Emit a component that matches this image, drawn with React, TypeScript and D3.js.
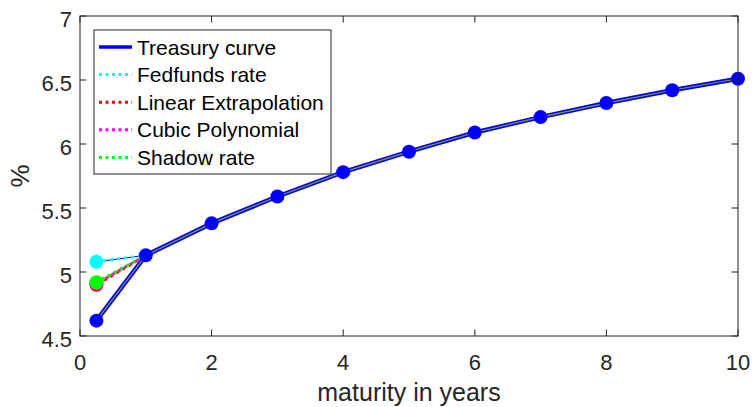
import React from "react";
import * as d3 from "d3";

// Treasury yield curve: maturities (years) and yields (%)
const maturities = [0.25, 1, 2, 3, 4, 5, 6, 7, 8, 9, 10];
const treasuryYields = [4.62, 5.13, 5.38, 5.59, 5.78, 5.94, 6.09, 6.21, 6.32, 6.42, 6.51];

// Alternative short-end values at the 3-month maturity
const fedfundsShort = 5.08;
const linearShort = 4.9;
const cubicShort = 4.91;
const shadowShort = 4.92;

const xTicks = [0, 2, 4, 6, 8, 10];
const yTicks = [4.5, 5, 5.5, 6, 6.5, 7];
const yTickLabels = ["4.5", "5", "5.5", "6", "6.5", "7"];

const legendLabels = [
  "Treasury curve",
  "Fedfunds rate",
  "Linear Extrapolation",
  "Cubic Polynomial",
  "Shadow rate",
];

const W = 753;
const H = 407;
const margin = { left: 80, right: 15, top: 16, bottom: 71 };
const FONT = "'Liberation Sans', Arial, Helvetica, sans-serif";
const AXIS = "#262626";

export default function App() {
  const x = d3.scaleLinear().domain([0, 10]).range([margin.left, W - margin.right]);
  const y = d3.scaleLinear().domain([4.5, 7]).range([H - margin.bottom, margin.top]);
  const line = d3
    .line<[number, number]>()
    .x((d) => x(d[0]))
    .y((d) => y(d[1]));

  const curve: [number, number][] = maturities.map((m, i) => [m, treasuryYields[i]]);
  const shortSeries = [
    { v: fedfundsShort, color: "#00ffff", base: "#0000ff" },
    { v: linearShort, color: "#ff0000", base: "#8a8a2a" },
    { v: cubicShort, color: "#ff00ff", base: "#8a8a2a" },
    { v: shadowShort, color: "#00ff00", base: "#8a8a2a" },
  ];

  const x0 = x.range()[0];
  const x1 = x.range()[1];
  const y0 = y.range()[0];
  const y1 = y.range()[1];

  const legend = { x: 94, y: 30, w: 237, h: 144 };
  const legendColors = ["#0000ff", "#00ffff", "#ff0000", "#ff00ff", "#00ff00"];

  return (
    <svg width={W} height={H} style={{ display: "block", position: "absolute", left: 0, top: 0 }}>
      <rect width={W} height={H} fill="#ffffff" />

      {/* short-end segments */}
      {shortSeries.map((s, i) => (
        <g key={"seg" + i}>
          <path
            d={line([[maturities[0], s.v], curve[1]]) || ""}
            fill="none"
            stroke={s.base}
            strokeWidth={1}
          />
          <path
            d={line([[maturities[0], s.v], curve[1]]) || ""}
            fill="none"
            stroke={s.color}
            strokeWidth={3}
            strokeDasharray="3 4"
            strokeDashoffset={-i * 2}
          />
        </g>
      ))}

      {/* treasury curve */}
      <path d={line(curve) || ""} fill="none" stroke="#0000ff" strokeWidth={4.5} />
      <path d={line(curve) || ""} fill="none" stroke="#8a9a3a" strokeWidth={1.2} />

      {/* markers */}
      {curve.map((d, i) => (
        <circle key={"m" + i} cx={x(d[0])} cy={y(d[1])} r={7} fill="#0000ff" />
      ))}
      <circle cx={x(maturities[0])} cy={y(fedfundsShort)} r={7} fill="#00ffff" />
      <circle cx={x(maturities[0])} cy={y(linearShort)} r={7} fill="#ff0000" />
      <circle cx={x(maturities[0])} cy={y(cubicShort)} r={7} fill="#ff00ff" />
      <circle cx={x(maturities[0])} cy={y(shadowShort)} r={7} fill="#00ff00" />

      {/* axes box */}
      <rect x={x0} y={y1} width={x1 - x0} height={y0 - y1} fill="none" stroke={AXIS} strokeWidth={1} />
      {xTicks.map((t) => (
        <g key={"xt" + t}>
          <line x1={x(t)} x2={x(t)} y1={y0} y2={y0 - 6.5} stroke={AXIS} />
          <line x1={x(t)} x2={x(t)} y1={y1} y2={y1 + 6.5} stroke={AXIS} />
          <text
            x={x(t)}
            y={y0 + 33.5}
            textAnchor="middle"
            fontFamily={FONT}
            fontSize={22}
            fill={AXIS}
          >
            {t}
          </text>
        </g>
      ))}
      {yTicks.map((t, i) => (
        <g key={"yt" + t}>
          <line x1={x0} x2={x0 + 6.5} y1={y(t)} y2={y(t)} stroke={AXIS} />
          <line x1={x1} x2={x1 - 6.5} y1={y(t)} y2={y(t)} stroke={AXIS} />
          <text
            x={x0 - 8}
            y={y(t) + 10.5}
            textAnchor="end"
            fontFamily={FONT}
            fontSize={22}
            fill={AXIS}
          >
            {yTickLabels[i]}
          </text>
        </g>
      ))}

      {/* axis labels */}
      <text
        x={(x0 + x1) / 2}
        y={H - 6}
        textAnchor="middle"
        fontFamily={FONT}
        fontSize={25}
        fill={AXIS}
      >
        maturity in years
      </text>
      <text
        transform={`translate(29, ${(y0 + y1) / 2}) rotate(-90)`}
        textAnchor="middle"
        fontFamily={FONT}
        fontSize={26}
        fill={AXIS}
      >
        %
      </text>

      {/* legend */}
      <rect
        x={legend.x}
        y={legend.y}
        width={legend.w}
        height={legend.h}
        fill="#ffffff"
        stroke={AXIS}
        strokeWidth={1}
      />
      {legendLabels.map((lab, i) => {
        const cy = legend.y + 17 + i * 27.6;
        return (
          <g key={"lg" + i}>
            <line
              x1={legend.x + 5}
              x2={legend.x + 38}
              y1={cy}
              y2={cy}
              stroke={legendColors[i]}
              strokeWidth={i === 0 ? 3.5 : 3}
              strokeDasharray={i === 0 ? undefined : "3 3.5"}
            />
            <text
              x={legend.x + 43}
              y={cy + 7.5}
              fontFamily={FONT}
              fontSize={21}
              fill="#000000"
            >
              {lab}
            </text>
          </g>
        );
      })}
    </svg>
  );
}
